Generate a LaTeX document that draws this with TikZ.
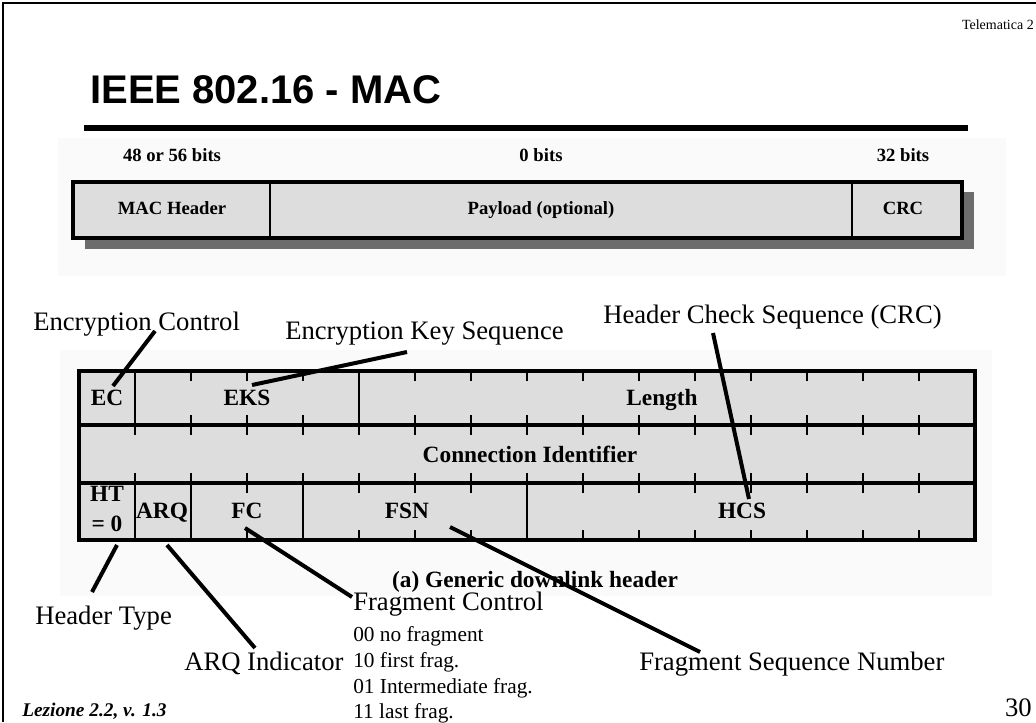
\documentclass[tikz,border=0pt]{standalone}
\usepackage{fontspec}
\setmainfont{Liberation Serif}
\newfontfamily\titlefont{Liberation Sans}
\usetikzlibrary{positioning,calc}
\definecolor{fieldgray}{RGB}{221,221,221}
\definecolor{shadowgray}{RGB}{108,108,108}
\definecolor{figback}{RGB}{250,250,250}

\begin{document}
\begin{tikzpicture}[
  x=0.75pt,y=-0.75pt,
  lbl/.style={font=\fontsize{20}{24}\selectfont,anchor=base west,inner sep=0pt},
  fld/.style={font=\fontsize{17.5}{21}\selectfont\bfseries,anchor=base,inner sep=0pt},
  hdr/.style={font=\fontsize{14}{17}\selectfont\bfseries,anchor=base,inner sep=0pt},
  codes/.style={font=\fontsize{16}{19.2}\selectfont,align=left,inner sep=0pt},
  lead/.style={line width=3pt},
  tick/.style={line width=0.8pt},
  frame/.style={line width=3.6pt},
  ]
  \useasboundingbox (0,0) rectangle (1036,722);
  % slide frame and title
  \fill[figback] (58,138) rectangle (1006,276);
  \fill[figback] (60,350) rectangle (992,596);
  \draw[line width=1.8pt] (3,722) -- (3,3) -- (1036,3);
  \node[anchor=base east,inner sep=0pt,font=\fontsize{10.5}{12}\selectfont] (course) at (1034,29) {Telematica 2};
  \node[anchor=base west,inner sep=0pt,font=\titlefont\fontsize{30}{34}\selectfont\bfseries] (title) at (90,103) {IEEE 802.16 - MAC};
  \draw[line width=4pt] (84,128) -- (968,128);

  % MAC PDU
  \node[hdr] (b1) at (172,161) {48 or 56 bits};
  \node[hdr] (b2) at (541,161) {0 bits};
  \node[hdr] (b3) at (903,161) {32 bits};
  \fill[shadowgray] (85,192) rectangle (974,249);
  \draw[line width=3pt,fill=fieldgray] (73,182) rectangle (962,238);
  \draw[tick] (270,182) -- (270,238) (852,182) -- (852,238);
  \node[hdr] (mach) at (172,214) {MAC Header};
  \node[hdr] (pay)  at (541,214) {Payload (optional)};
  \node[hdr] (crc)  at (903,214) {CRC};

  % generic downlink header
  \fill[fieldgray] (79,371) rectangle (975,540);
  \foreach \k in {2,3,4,6,7,8,9,10,11,12,13,14,15}
    \draw[tick] (79+56*\k,371) -- ++(0,10) (79+56*\k,425) -- ++(0,-10);
  \foreach \k in {1,...,15}
    \draw[tick] (79+56*\k,425) -- ++(0,10) (79+56*\k,483) -- ++(0,-10);
  \foreach \k in {3,5,6,7,9,10,11,12,13,14,15}
    \draw[tick] (79+56*\k,483) -- ++(0,10) (79+56*\k,540) -- ++(0,-10);
  \foreach \k in {1,5}
    \draw[tick] (79+56*\k,371) -- (79+56*\k,425);
  \foreach \k in {1,2,4,8}
    \draw[tick] (79+56*\k,483) -- (79+56*\k,540);
  \draw[frame] (79,371) rectangle (975,540) (79,425) -- (975,425) (79,483) -- (975,483);

  \node[fld] (ec)  at (107,405) {EC};
  \node[fld] (eks) at (247,405) {EKS};
  \node[fld] (len) at (662,405) {Length};
  \node[fld] (cid) at (530,462) {Connection Identifier};
  \node[fld,anchor=center,align=center,font=\fontsize{17.5}{22}\selectfont\bfseries] (ht) at (107,509) {HT\\= 0};
  \node[fld] (arq) at (162,518) {ARQ};
  \node[fld] (fc)  at (247,518) {FC};
  \node[fld] (fsn) at (407,518) {FSN};
  \node[fld] (hcs) at (742,518) {HCS};
  \node[fld] (capt) at (535,587) {(a) Generic downlink header};

  % field names
  \node[lbl] (lblEC)  at (33,330)  {Encryption Control};
  \node[lbl] (lblEKS) at (285,339) {Encryption Key Sequence};
  \node[lbl] (lblHCS) at (603,323) {Header Check Sequence (CRC)};
  \node[lbl] (lblHT)  at (35,624)  {Header Type};
  \node[lbl] (lblARQ) at (184,670) {ARQ Indicator};
  \node[lbl] (lblFC)  at (353,610) {Fragment Control};
  \node[lbl] (lblFSN) at (639,670) {Fragment Sequence Number};
  \node[codes,below right=8pt and 0pt of lblFC.south west] (fcodes)
    {00 no fragment\\10 first frag.\\01 Intermediate frag.\\11 last frag.};

  \draw[lead] ($(lblEC.base west)+(122,1)$)   -- ($(ec.base)+(6,-19)$);
  \draw[lead] ($(lblEKS.base west)+(122,13)$) -- ($(eks.base)+(5,-20)$);
  \draw[lead] ($(lblHCS.base west)+(110,10)$) -- ($(hcs.base)+(7,-19)$);
  \draw[lead] ($(lblHT.base west)+(57,-32)$)  -- ($(ht.center)+(10,36)$);
  \draw[lead] ($(lblARQ.base west)+(71,-22)$) -- ($(arq.base)+(5,27)$);
  \draw[lead] ($(lblFC.base west)+(-1,-13)$)  -- ($(fc.base)+(-2,10)$);
  \draw[lead] ($(lblFSN.base west)+(61,-18)$) -- ($(fsn.base)+(43,9)$);

  % footer
  \node[anchor=base west,inner sep=0pt,font=\fontsize{14.5}{17}\selectfont\bfseries\itshape] (lez) at (22,716) {Lezione 2.2, v. 1.3};
  \node[anchor=base east,inner sep=0pt,font=\fontsize{20}{24}\selectfont] (page) at (1032,716) {30};
\end{tikzpicture}
\end{document}
